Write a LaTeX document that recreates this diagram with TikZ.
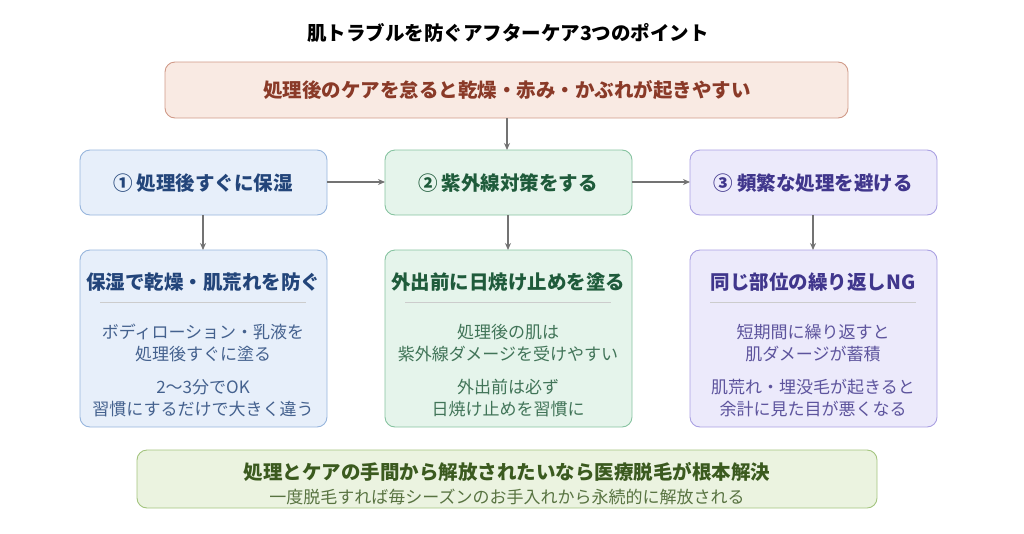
\documentclass[tikz,border=0pt]{standalone}
\usepackage{fontspec}
\setmainfont{Noto Sans CJK JP}
\usetikzlibrary{positioning, arrows.meta}
\definecolor{topfill}{HTML}{F9EAE3}\definecolor{topdraw}{HTML}{D09A88}\definecolor{toptext}{HTML}{8A3A28}
\definecolor{bfill}{HTML}{E7EFFA}\definecolor{bdraw}{HTML}{97B5DD}\definecolor{btext}{HTML}{23457A}
\definecolor{gfill}{HTML}{E5F4EB}\definecolor{gdraw}{HTML}{86C3A0}\definecolor{gtext}{HTML}{1F5B3B}
\definecolor{pfill}{HTML}{ECEAFB}\definecolor{pdraw}{HTML}{A9A0E2}\definecolor{ptext}{HTML}{40368C}
\definecolor{ofill}{HTML}{EBF3E0}\definecolor{odraw}{HTML}{A3C47E}\definecolor{otext}{HTML}{3B5A1F}
\begin{document}
\begin{tikzpicture}[x=1pt, y=-1pt,
    box/.style={draw, rounded corners=10pt, line width=0.9pt},
    arr/.style={-{Stealth[length=7pt,width=6pt]}, draw=black!55, line width=1.1pt},
    hd/.style={font=\fontsize{19.5}{23}\selectfont\bfseries},
    bd/.style={font=\fontsize{17}{22.5}\selectfont, align=center}]
    \useasboundingbox (0,0) rectangle (1024,533);
    % title
    \node[font=\fontsize{19.5}{23}\selectfont\bfseries] (title) at (508,33) {肌トラブルを防ぐアフターケア3つのポイント};
    % top box
    \draw[box, fill=topfill, draw=topdraw] (165,62) rectangle (848,118);
    \node[hd, text=toptext] (top) at (507,90) {処理後のケアを怠ると乾燥・赤み・かぶれが起きやすい};
    \coordinate (topb) at (507,118);
    % row boxes
    \draw[box, fill=bfill, draw=bdraw] (80,150) rectangle (327,215);
    \draw[box, fill=gfill, draw=gdraw] (385,150) rectangle (632,215);
    \draw[box, fill=pfill, draw=pdraw] (690,150) rectangle (937,215);
    \node[hd, text=btext] (s1) at (203,183) {① 処理後すぐに保湿};
    \node[hd, text=gtext] (s2) at (508,183) {② 紫外線対策をする};
    \node[hd, text=ptext] (s3) at (813,183) {③ 頻繁な処理を避ける};
    \coordinate (s1r) at (327,182); \coordinate (s2l) at (385,182);
    \coordinate (s2r) at (632,182); \coordinate (s3l) at (690,182);
    % detail boxes
    \draw[box, fill=bfill, draw=bdraw] (80,250) rectangle (327,427);
    \draw[box, fill=gfill, draw=gdraw] (385,250) rectangle (632,427);
    \draw[box, fill=pfill, draw=pdraw] (690,250) rectangle (937,427);
    \foreach \x in {203,508,813}
        \draw[black!20, line width=0.8pt] (\x-103,302) -- (\x+103,302);
    \node[hd, text=btext] (d1) at (203,282) {保湿で乾燥・肌荒れを防ぐ};
    \node[hd, text=gtext] (d2) at (508,282) {外出前に日焼け止めを塗る};
    \node[hd, text=ptext] (d3) at (813,282) {同じ部位の繰り返しNG};
    \node[bd, text=btext!85] (b1a) at (203,343) {ボディローション・乳液を\\処理後すぐに塗る};
    \node[bd, text=btext!85] (b1b) at (203,398) {2〜3分でOK\\習慣にするだけで大きく違う};
    \node[bd, text=gtext!85] (b2a) at (508,343) {処理後の肌は\\紫外線ダメージを受けやすい};
    \node[bd, text=gtext!85] (b2b) at (508,398) {外出前は必ず\\日焼け止めを習慣に};
    \node[bd, text=ptext!85] (b3a) at (813,343) {短期間に繰り返すと\\肌ダメージが蓄積};
    \node[bd, text=ptext!85] (b3b) at (813,398) {肌荒れ・埋没毛が起きると\\余計に見た目が悪くなる};
    \coordinate (s1b) at (203,215); \coordinate (d1t) at (203,250);
    \coordinate (s2b) at (508,215); \coordinate (d2t) at (508,250);
    \coordinate (s3b) at (813,215); \coordinate (d3t) at (813,250);
    \coordinate (s2t) at (507,150);
    % bottom box
    \draw[box, fill=ofill, draw=odraw] (137,450) rectangle (877,508);
    \node[hd, text=otext] (conc) at (507,472) {処理とケアの手間から解放されたいなら医療脱毛が根本解決};
    \node[font=\fontsize{17}{20}\selectfont, text=otext!85] (concs) at (507,497) {一度脱毛すれば毎シーズンのお手入れから永続的に解放される};
    % arrows
    \draw[arr] (topb) -- (s2t);
    \draw[arr] (s1r) -- (s2l);
    \draw[arr] (s2r) -- (s3l);
    \draw[arr] (s1b) -- (d1t);
    \draw[arr] (s2b) -- (d2t);
    \draw[arr] (s3b) -- (d3t);
\end{tikzpicture}
\end{document}
